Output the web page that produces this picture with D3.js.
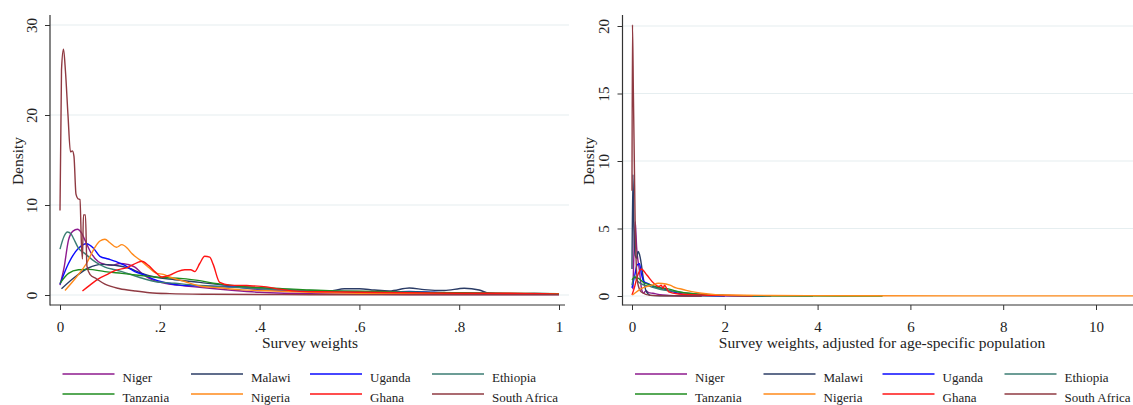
<!DOCTYPE html>
<html>
<head>
<meta charset="utf-8">
<script src="https://cdn.jsdelivr.net/npm/d3@7"></script>
<style>
  body { margin: 0; background: #fff; }
  text { font-family: "Liberation Serif", "Times New Roman", serif; fill: #222; }
</style>
</head>
<body>
<div id="chart"></div>
<script>
// countries, in legend order
const countries = ["Niger", "Malawi", "Uganda", "Ethiopia", "Tanzania", "Nigeria", "Ghana", "South Africa"];
const colors = ["#8e1a8e", "#2b3c66", "#0a0aff", "#3b7d73", "#1f8c1f", "#ff8a1a", "#ff1414", "#8f3a42"];

// left panel: density of survey weights, [weight, density]
const nigerW = [[0,1.1],[0.008,3],[0.017,6.1],[0.026,7.1],[0.035,7.3],[0.043,6.9],[0.05,6.1],[0.063,4.6],[0.077,3.7],[0.09,3.4],[0.104,3.3],[0.12,3.5],[0.135,3.4],[0.15,3.1],[0.164,2.4],[0.184,1.7],[0.21,1.3],[0.237,1.1],[0.27,0.9],[0.3,0.75],[0.35,0.5],[0.4,0.3],[0.45,0.2],[0.5,0.15],[0.6,0.1],[0.7,0.06],[0.8,0.05],[0.9,0.04],[1,0.04]];
const malawiW = [[0.003,0.7],[0.03,2.0],[0.057,3.0],[0.083,3.4],[0.11,3.3],[0.137,3.0],[0.164,2.4],[0.19,2.0],[0.23,1.7],[0.28,1.4],[0.33,1.1],[0.4,0.8],[0.45,0.6],[0.5,0.45],[0.54,0.45],[0.57,0.7],[0.6,0.7],[0.63,0.55],[0.66,0.45],[0.7,0.78],[0.73,0.6],[0.77,0.5],[0.81,0.75],[0.84,0.55],[0.86,0.2],[0.9,0.1],[0.95,0.18],[1,0.15]];
const ugandaW = [[0,1.2],[0.017,3.5],[0.037,5.2],[0.053,5.7],[0.067,5.2],[0.08,4.3],[0.097,4.0],[0.113,3.7],[0.13,3.3],[0.15,2.6],[0.17,2.2],[0.19,1.7],[0.217,1.3],[0.24,1.1],[0.28,1.0],[0.32,0.95],[0.36,0.85],[0.4,0.6],[0.45,0.5],[0.5,0.45],[0.55,0.4],[0.6,0.3],[0.65,0.3],[0.7,0.4],[0.75,0.3],[0.8,0.2],[0.9,0.15],[1,0.1]];
const ethiopiaW = [[0,5.1],[0.008,6.5],[0.015,7.0],[0.022,6.8],[0.027,6.3],[0.037,5.2],[0.05,4.6],[0.07,3.7],[0.09,3.1],[0.11,2.8],[0.124,2.6],[0.157,2.0],[0.19,1.5],[0.23,1.3],[0.27,1.1],[0.3,1.0],[0.35,0.85],[0.4,0.7],[0.5,0.5],[0.6,0.4],[0.7,0.3],[0.8,0.2],[0.9,0.15],[1,0.15]];
const tanzaniaW = [[0,1.3],[0.017,2.4],[0.037,2.8],[0.057,2.85],[0.09,2.6],[0.124,2.4],[0.157,2.2],[0.19,2.0],[0.24,1.85],[0.28,1.6],[0.307,1.3],[0.34,1.1],[0.374,0.9],[0.44,0.74],[0.5,0.55],[0.55,0.45],[0.64,0.4],[0.7,0.3],[0.8,0.25],[0.9,0.2],[1,0.15]];
const nigeriaW = [[0.01,0.5],[0.033,2.0],[0.053,3.5],[0.07,5.3],[0.08,6.0],[0.09,6.2],[0.1,5.8],[0.113,5.3],[0.124,5.6],[0.135,5.2],[0.144,4.6],[0.16,3.9],[0.177,3.1],[0.194,2.4],[0.207,2.3],[0.22,2.0],[0.25,1.5],[0.28,1.0],[0.32,0.8],[0.36,0.6],[0.4,0.5],[0.5,0.3],[0.6,0.2],[0.7,0.15],[0.8,0.1],[0.9,0.1],[1,0.1]];
const ghanaW = [[0.045,0.45],[0.06,1.1],[0.077,1.8],[0.095,2.3],[0.11,2.7],[0.137,3.1],[0.155,3.6],[0.164,3.75],[0.177,3.3],[0.19,2.6],[0.204,2.0],[0.22,2.2],[0.235,2.6],[0.25,2.8],[0.262,2.8],[0.27,2.6],[0.28,3.5],[0.29,4.3],[0.3,4.2],[0.307,3.4],[0.32,1.4],[0.34,1.1],[0.374,1.05],[0.414,0.9],[0.44,0.65],[0.48,0.4],[0.55,0.35],[0.6,0.3],[0.7,0.25],[0.8,0.2],[0.9,0.2],[1,0.1]];
const southAfricaW = [[0,9.4],[0.003,25],[0.007,27.3],[0.011,24.8],[0.016,20],[0.021,15.9],[0.025,16],[0.028,15.4],[0.032,11.2],[0.036,10.7],[0.04,10.6],[0.043,5.6],[0.045,4],[0.047,8.9],[0.051,8.9],[0.054,3.2],[0.06,2.3],[0.073,1.8],[0.09,1.2],[0.12,0.7],[0.15,0.45],[0.18,0.25],[0.22,0.15],[0.3,0.08],[0.4,0.05],[0.5,0.03],[0.7,0.02],[1,0.02]];

// right panel: weights adjusted for age-specific population
const nigerA = [[0.02,0.5],[0.04,3],[0.07,5.5],[0.1,3.6],[0.16,1.9],[0.21,0.45],[0.25,0.2],[0.3,0.4],[0.36,0.25],[0.45,0.2],[0.6,0.1],[0.8,0.05],[1,0.02],[1.5,0]];
const malawiA = [[0,2],[0.02,9],[0.04,5],[0.07,3],[0.1,2.8],[0.13,3.3],[0.16,3.1],[0.19,2.6],[0.24,1.4],[0.3,0.4],[0.4,0.05],[0.6,0.02],[1,0.02],[2,0]];
const ugandaA = [[0,0.6],[0.06,1.55],[0.11,2.3],[0.16,2.4],[0.2,1.7],[0.25,1.1],[0.36,0.9],[0.46,0.7],[0.65,0.57],[0.79,0.4],[1,0.2],[1.2,0.1],[2,0.02],[3,0]];
const ethiopiaA = [[0,0.8],[0.05,1.5],[0.1,1.2],[0.2,0.9],[0.4,0.7],[0.6,0.5],[0.9,0.35],[1.2,0.2],[1.6,0.1],[2,0.05],[3,0.01],[3.9,0]];
const tanzaniaA = [[0,1.2],[0.06,1.4],[0.1,1.35],[0.14,1.3],[0.25,1.0],[0.36,0.85],[0.46,0.75],[0.6,0.6],[0.75,0.55],[0.86,0.45],[1.03,0.3],[1.22,0.2],[1.5,0.12],[2,0.05],[2.5,0.02],[3.5,0.01],[5.4,0]];
const nigeriaA = [[0.01,0.07],[0.21,0.57],[0.43,0.8],[0.57,0.94],[0.65,0.93],[0.82,0.8],[0.95,0.6],[1.08,0.5],[1.29,0.32],[1.5,0.2],[1.8,0.1],[2.1,0.07],[3,0.04],[5,0.02],[8,0.01],[10.8,0.01]];
const ghanaA = [[0,0.07],[0.05,0.6],[0.11,1.4],[0.2,2.0],[0.32,1.55],[0.47,0.94],[0.58,0.7],[0.63,0.8],[0.67,0.57],[0.7,0.8],[0.79,0.3],[1.0,0.15],[1.5,0.07],[2,0.04],[2.6,0.01]];
const southAfricaA = [[0,7.8],[0.01,20.1],[0.03,15],[0.05,10],[0.07,5],[0.09,2.5],[0.12,1],[0.2,0.3],[0.4,0.05],[1,0.01],[1.5,0]];

const xTicksW = [0, 0.2, 0.4, 0.6, 0.8, 1];
const yTicksW = [0, 10, 20, 30];
const xTicksA = [0, 2, 4, 6, 8, 10];
const yTicksA = [0, 5, 10, 15, 20];

const seriesW = [nigerW, malawiW, ugandaW, ethiopiaW, tanzaniaW, nigeriaW, ghanaW, southAfricaW];
const seriesA = [nigerA, malawiA, ugandaA, ethiopiaA, tanzaniaA, nigeriaA, ghanaA, southAfricaA];
// the right panel's long orange tail sits on top of the others
const orderA = [0, 1, 2, 3, 4, 6, 7, 5];

const svg = d3.select("#chart").append("svg")
  .attr("width", 1133)
  .attr("height", 405);

function drawPanel(opts) {
  const g = svg.append("g");
  const x = d3.scaleLinear().domain(opts.xDomain).range(opts.xRange);
  const y = d3.scaleLinear().domain(opts.yDomain).range(opts.yRange);

  // gridlines
  g.selectAll(".grid").data(opts.yTicks).enter().append("line")
    .attr("x1", opts.spineX).attr("x2", opts.gridEnd)
    .attr("y1", d => y(d)).attr("y2", d => y(d))
    .attr("stroke", "#e6eef0").attr("stroke-width", 1.2);

  // density lines
  const line = d3.line().x(d => x(d[0])).y(d => y(d[1])).curve(d3.curveMonotoneX);
  g.selectAll(".dens").data(opts.order).enter().append("path")
    .attr("d", i => line(opts.series[i]))
    .attr("fill", "none")
    .attr("stroke", i => colors[i])
    .attr("stroke-width", 1.4)
    .attr("stroke-linejoin", "round");

  // y axis
  const yAxis = g.append("g")
    .attr("transform", `translate(${opts.spineX},0)`)
    .call(d3.axisLeft(y).tickValues(opts.yTicks).tickSize(5).tickSizeOuter(0));
  yAxis.select(".domain").remove();
  yAxis.selectAll(".tick line").attr("stroke", "#333");
  yAxis.selectAll(".tick text")
    .attr("transform", "rotate(-90)")
    .attr("x", 0).attr("y", -opts.yLabelOff).attr("dy", 0)
    .style("text-anchor", "middle")
    .style("font-size", "15px")
    .style("font-family", "Liberation Serif, serif")
    .attr("fill", "#222");

  // x axis
  const xAxis = g.append("g")
    .attr("transform", "translate(0,305)")
    .call(d3.axisBottom(x).tickValues(opts.xTicks).tickSize(5).tickSizeOuter(0).tickFormat(opts.xFormat));
  xAxis.select(".domain").remove();
  xAxis.selectAll(".tick line").attr("stroke", "#333");
  xAxis.selectAll(".tick text")
    .attr("y", 27).attr("dy", 0)
    .style("font-size", "15px")
    .style("font-family", "Liberation Serif, serif")
    .attr("fill", "#222");

  // spines
  g.append("line").attr("x1", opts.spineX).attr("x2", opts.spineX).attr("y1", 15).attr("y2", 305.5)
    .attr("stroke", "#333").attr("stroke-width", 1.2);
  g.append("line").attr("x1", opts.spineX).attr("x2", opts.axisEnd).attr("y1", 305).attr("y2", 305)
    .attr("stroke", "#333").attr("stroke-width", 1.2);

  // titles
  g.append("text")
    .attr("transform", `translate(${opts.spineX - opts.titleOff},161) rotate(-90)`)
    .attr("text-anchor", "middle")
    .style("font-size", "15.5px")
    .text("Density");
  g.append("text")
    .attr("x", opts.titleX).attr("y", 348)
    .attr("text-anchor", "middle")
    .style("font-size", "15.5px")
    .text(opts.xTitle);

  // legend, 4 columns x 2 rows
  const colOff = [12.5, 141, 260, 382];
  const leg = g.selectAll(".leg").data(countries).enter().append("g")
    .attr("transform", (d, i) => `translate(${opts.spineX + colOff[i % 4]},${i < 4 ? 374 : 394})`);
  leg.append("line").attr("x1", 0).attr("x2", 52).attr("y1", 0).attr("y2", 0)
    .attr("stroke", (d, i) => colors[i]).attr("stroke-width", 1.6);
  leg.append("text").attr("x", 60).attr("y", 7.5)
    .style("font-size", "13px")
    .text(d => d);
}

const fmtW = d => d === 0 ? "0" : d === 1 ? "1" : d3.format(".1f")(d).replace(/^0/, "");

drawPanel({
  series: seriesW, order: d3.range(8), xDomain: [0, 1], xRange: [60, 559], yDomain: [0, 30], yRange: [295, 25],
  xTicks: xTicksW, yTicks: yTicksW, xFormat: fmtW,
  spineX: 50, gridEnd: 569, axisEnd: 565, yLabelOff: 13.5, titleOff: 27,
  titleX: 310, xTitle: "Survey weights"
});

drawPanel({
  series: seriesA, order: orderA, xDomain: [0, 10], xRange: [632, 1096], yDomain: [0, 20], yRange: [296, 26],
  xTicks: xTicksA, yTicks: yTicksA, xFormat: d3.format("d"),
  spineX: 622.5, gridEnd: 1133, axisEnd: 1133, yLabelOff: 14, titleOff: 28.5,
  titleX: 882, xTitle: "Survey weights, adjusted for age-specific population"
});
</script>
</body>
</html>
